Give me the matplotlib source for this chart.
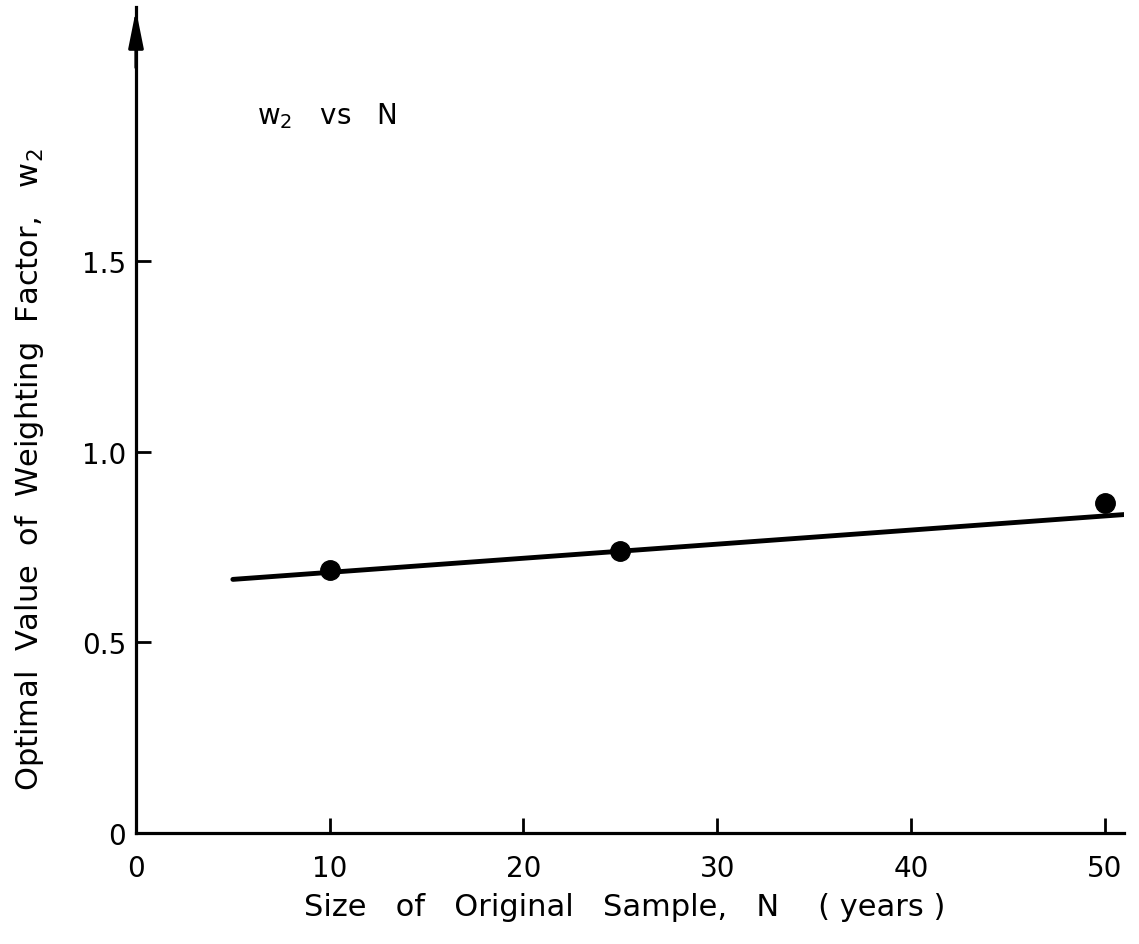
import matplotlib
matplotlib.use("Agg")
import matplotlib.pyplot as plt

# observed optimal weighting factor for each sample size
sample_n = [10, 25, 50]
w2_opt = [0.69, 0.74, 0.865]

# straight-line fit drawn through the points
fit_n = [5, 51]
fit_w2 = [0.665, 0.835]

x_ticks = [0, 10, 20, 30, 40, 50]
x_labels = ["0", "10", "20", "30", "40", "50"]
y_ticks = [0, 0.5, 1.0, 1.5]
y_labels = ["0", "0.5", "1.0", "1.5"]

plt.rcParams["font.family"] = ["DejaVu Sans"]

fig = plt.figure(figsize=(11.39, 9.45), dpi=100)
ax = fig.add_axes([0.1194, 0.1175, 0.8674, 0.874])

ax.plot(fit_n, fit_w2, color="black", lw=3.5, solid_capstyle="round")
ax.plot(sample_n, w2_opt, "o", color="black", ms=14)

ax.set_xlim(0, 51)
ax.set_ylim(0, 2.166)

for side in ("top", "right"):
    ax.spines[side].set_visible(False)
for side in ("left", "bottom"):
    ax.spines[side].set_linewidth(2.3)

ax.set_xticks(x_ticks)
ax.set_xticklabels(x_labels)
ax.set_yticks(y_ticks)
ax.set_yticklabels(y_labels)
ax.tick_params(axis="both", direction="in", length=11, width=2, labelsize=20)
ax.tick_params(axis="x", pad=15)
ax.tick_params(axis="y", pad=7)

# arrow head on top of the y axis
ax.annotate("", xy=(0, 2.166), xytext=(0, 2.0),
            arrowprops=dict(arrowstyle="-|>,head_length=1.5,head_width=0.3",
                            mutation_scale=15, lw=2.3, color="black"),
            annotation_clip=False)

fig.text(625 / 1139, 1 - 908 / 945, "Size   of   Original   Sample,   N    ( years )",
         ha="center", va="center", fontsize=22)
fig.text(30 / 1139, 1 - 470 / 945, "Optimal  Value  of  Weighting  Factor,   w$_2$",
         ha="center", va="center", rotation=90, fontsize=22)
fig.text(257 / 1139, 1 - 116 / 945, "w$_2$   vs   N",
         ha="left", va="center", fontsize=20)

fig.savefig("out.png", dpi=100, facecolor="white")
